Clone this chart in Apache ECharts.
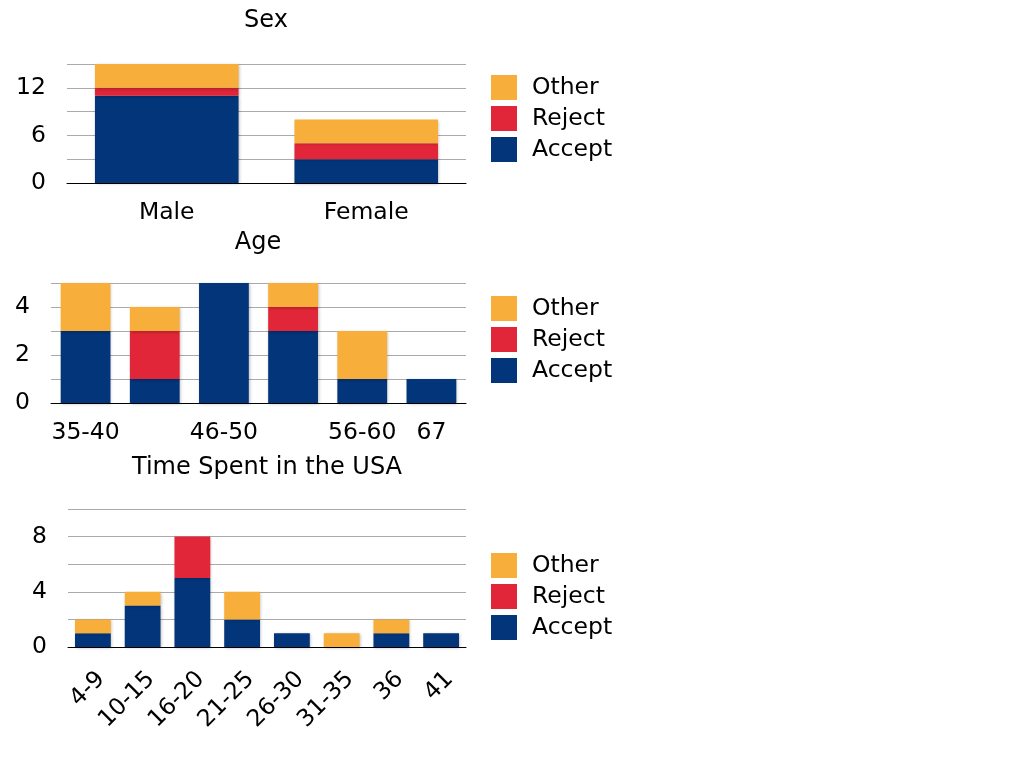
<!DOCTYPE html>
<html>
<head>
<meta charset="utf-8">
<script src="https://cdn.jsdelivr.net/npm/echarts@6/dist/echarts.min.js"></script>
<style>html,body{margin:0;padding:0;background:#fff}#c{width:1024px;height:768px}</style>
</head>
<body>
<div id="c"></div>
<script>
// ---- data ----
const seriesNames = ['Accept', 'Reject', 'Other'];

const sexCategories = ['Male', 'Female'];
const sexAccept = [11, 3];
const sexReject = [1, 2];
const sexOther  = [3, 3];

const ageCategories = ['35-40', '41-45', '46-50', '51-55', '56-60', '67'];
const ageAccept = [3, 1, 5, 3, 1, 1];
const ageReject = [0, 2, 0, 1, 0, 0];
const ageOther  = [2, 1, 0, 1, 2, 0];

const timeCategories = ['4-9', '10-15', '16-20', '21-25', '26-30', '31-35', '36', '41'];
const timeAccept = [1, 3, 5, 2, 1, 0, 1, 1];
const timeReject = [0, 0, 3, 0, 0, 0, 0, 0];
const timeOther  = [1, 1, 0, 2, 0, 1, 1, 0];

const sexTitle = 'Sex';
const ageTitle = 'Age';
const timeTitle = 'Time Spent in the USA';

// ---- styling ----
const colors = { Accept: '#03357a', Reject: '#e02638', Other: '#f8ae3b' };
const FONT = 'DejaVu Sans, Verdana, sans-serif';
const FS = 23.5;
const TFS = 24;

function mkSeries(idx, stack, values) {
  return seriesNames.map((n, k) => ({
    type: 'bar',
    name: n,
    stack: stack,
    xAxisIndex: idx,
    yAxisIndex: idx,
    barCategoryGap: '28%',
    data: values[k],
    itemStyle: {
      color: colors[n],
      shadowBlur: 3,
      shadowColor: 'rgba(0,0,0,0.25)',
      shadowOffsetX: 1,
      shadowOffsetY: 1
    },
    emphasis: { disabled: true },
    animation: false
  }));
}

const grids = [
  { left: 67, width: 399, top: 64, height: 119 },
  { left: 51, width: 415, top: 283, height: 120 },
  { left: 68, width: 398, top: 509, height: 138 }
];

function xAx(idx, cats, extraLabel) {
  return {
    type: 'category',
    gridIndex: idx,
    data: cats,
    axisLine: { lineStyle: { color: '#000', width: 1 } },
    axisTick: { show: false },
    axisLabel: Object.assign({ color: '#000', fontFamily: FONT, fontSize: FS, margin: 18 }, extraLabel || {})
  };
}

function yAx(idx, max, interval, labelEvery) {
  return {
    type: 'value',
    gridIndex: idx,
    min: 0,
    max: max,
    interval: interval,
    axisLine: { show: false },
    axisTick: { show: false },
    splitLine: { lineStyle: { color: '#aaaaaa', width: 1 } },
    axisLabel: {
      color: '#000', fontFamily: FONT, fontSize: FS, margin: 21,
      formatter: v => (v % labelEvery === 0 ? String(v) : '')
    }
  };
}

function legend(top) {
  return {
    orient: 'vertical',
    left: 486,
    top: top,
    itemWidth: 26,
    itemHeight: 25,
    itemGap: 6,
    selectedMode: false,
    icon: 'rect',
    data: ['Other', 'Reject', 'Accept'],
    textStyle: { color: '#000', fontFamily: FONT, fontSize: FS, padding: [0, 0, 0, 10] }
  };
}

function title(text, center, top) {
  return {
    text: text,
    left: center,
    top: top,
    textAlign: 'center',
    padding: 0,
    textStyle: { color: '#000', fontFamily: FONT, fontSize: TFS, fontWeight: 'normal' }
  };
}

const option = {
  animation: false,
  title: [
    title(sexTitle, 266, 9),
    title(ageTitle, 258, 231),
    title(timeTitle, 267, 456)
  ],
  legend: [legend(70), legend(291), legend(548)],
  grid: grids,
  xAxis: [
    xAx(0, sexCategories),
    xAx(1, ageCategories, { interval: (i) => i !== 1 && i !== 3 }),
    xAx(2, timeCategories, { rotate: 45, margin: 20, verticalAlign: 'top' })
  ],
  yAxis: [
    yAx(0, 15, 3, 6),
    yAx(1, 5, 1, 2),
    yAx(2, 10, 2, 4)
  ],
  series: [].concat(
    mkSeries(0, 'sex', [sexAccept, sexReject, sexOther]),
    mkSeries(1, 'age', [ageAccept, ageReject, ageOther]),
    mkSeries(2, 'time', [timeAccept, timeReject, timeOther])
  )
};

const chart = echarts.init(document.getElementById('c'), null, { renderer: 'canvas' });
chart.setOption(option);
</script>
</body>
</html>
